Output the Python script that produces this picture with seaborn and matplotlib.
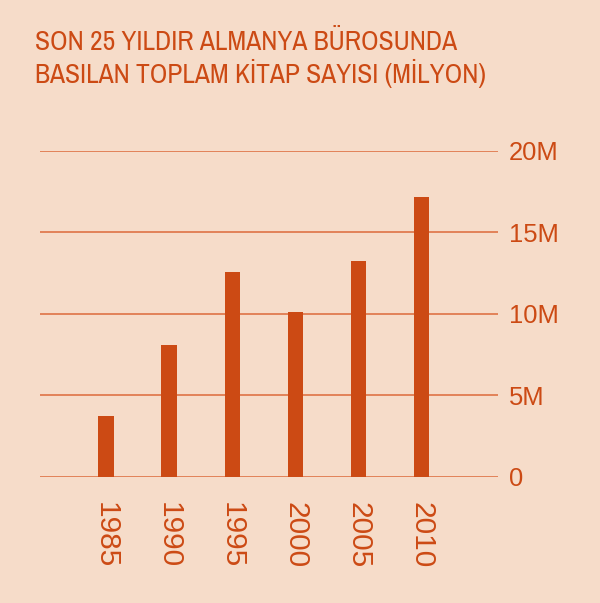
import matplotlib
matplotlib.use("Agg")
import matplotlib.pyplot as plt
import seaborn as sns
import pandas as pd

# data (millions of books)
years = ["1985", "1990", "1995", "2000", "2005", "2010"]
books_m = [3.71, 8.07, 12.55, 10.11, 13.26, 17.17]
y_ticks = [0, 5, 10, 15, 20]
y_tick_labels = ["0", "5M", "10M", "15M", "20M"]
title_lines = ["SON 25 YILDIR ALMANYA BÜROSUNDA",
               "BASILAN TOPLAM KİTAP SAYISI (MİLYON)"]

BG = "#f6dcc9"
ORANGE = "#cc4a14"
GRID = "#dc6a3a"
TITLE_FONT = ["Archivo Narrow", "Liberation Sans", "DejaVu Sans"]

sns.set_theme(style="white")
plt.rcParams["font.family"] = ["Liberation Sans", "DejaVu Sans"]

df = pd.DataFrame({"year": years, "books": books_m})

fig = plt.figure(figsize=(6, 6.03), dpi=100, facecolor=BG)
ax = fig.add_axes([40 / 600, 1 - 476.7 / 603, 457.7 / 600, 325.7 / 603])
ax.set_facecolor(BG)

sns.barplot(data=df, x="year", y="books", color=ORANGE, saturation=1,
            width=0.243, linewidth=0, ax=ax, zorder=3)

ax.set_ylim(0, 20)
ax.set_xlim(-1.048, 6.21)
ax.set_yticks(y_ticks)
ax.set_yticklabels(y_tick_labels)
for t in y_ticks:
    ax.axhline(t, color=GRID, lw=1.1, zorder=1)

ax.yaxis.tick_right()
ax.tick_params(axis="y", length=0, pad=8, labelsize=18.4, labelcolor=ORANGE)
ax.tick_params(axis="x", length=0, pad=18, labelsize=21.5, labelcolor=ORANGE,
               labelrotation=270)
ax.set_xlabel("")
ax.set_ylabel("")
for s in ax.spines.values():
    s.set_visible(False)

fig.text(35 / 600, 1 - 50 / 603, title_lines[0], color=ORANGE, fontsize=19.8,
         family=TITLE_FONT, va="baseline")
fig.text(35 / 600, 1 - 83 / 603, title_lines[1], color=ORANGE, fontsize=19.8,
         family=TITLE_FONT, va="baseline")

fig.savefig("out.png", dpi=100, facecolor=BG)
